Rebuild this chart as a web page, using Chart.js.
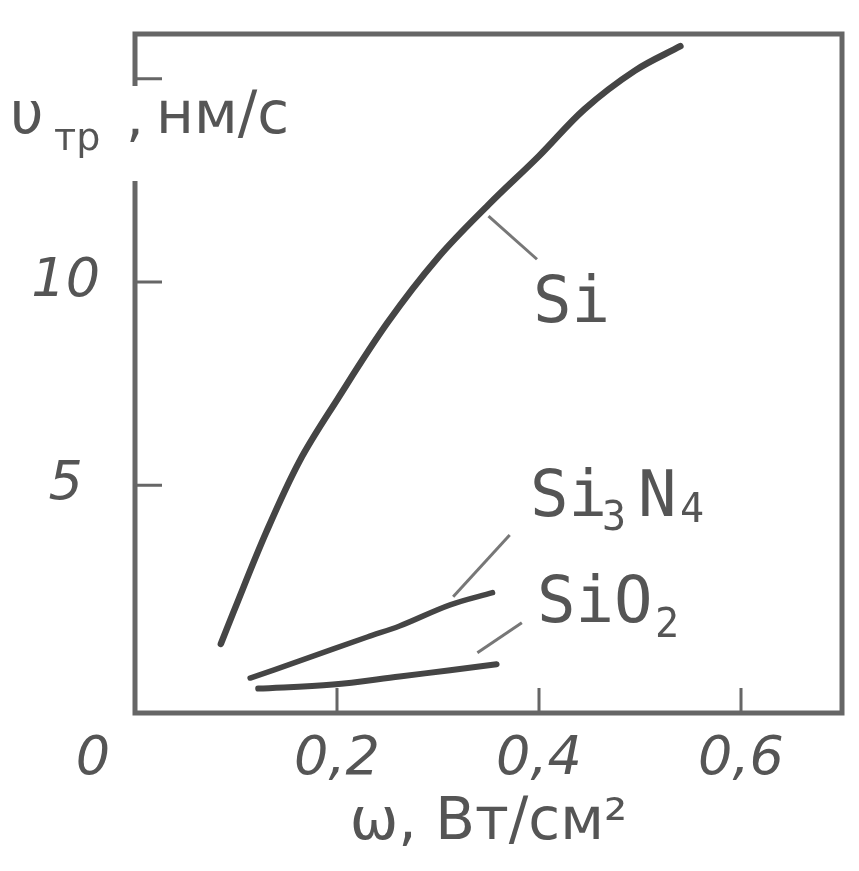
<!DOCTYPE html>
<html>
<head>
<meta charset="utf-8">
<script src="https://cdn.jsdelivr.net/npm/chart.js@4.4.0/dist/chart.umd.min.js"></script>
<style>
  html, body { margin: 0; padding: 0; background: #fff; }
  #wrap { width: 859px; height: 871px; }
</style>
</head>
<body>
<div id="wrap"><canvas id="myChart"></canvas></div>
<script>
// etch rate vs. specific power

const siX = [0.085, 0.097, 0.13, 0.163, 0.2, 0.25, 0.3, 0.35, 0.4, 0.445, 0.495, 0.54];
const siY = [1.1, 1.85, 3.85, 5.6, 7.1, 9.0, 10.6, 11.9, 13.1, 14.25, 15.2, 15.8];

const si3n4X = [0.114, 0.163, 0.23, 0.262, 0.312, 0.354];
const si3n4Y = [0.26, 0.68, 1.27, 1.54, 2.06, 2.36];

const sio2X = [0.122, 0.196, 0.262, 0.312, 0.358];
const sio2Y = [0.0, 0.1, 0.3, 0.45, 0.6];

// leader lines from the curves to their names
const leadSiX = [0.35, 0.398];
const leadSiY = [11.62, 10.56];
const leadSi3n4X = [0.315, 0.371];
const leadSi3n4Y = [2.26, 3.78];
const leadSio2X = [0.339, 0.383];
const leadSio2Y = [0.88, 1.62];

const xTicks = [0.2, 0.4, 0.6];
const xTickLabels = ['0,2', '0,4', '0,6'];
const yTicks = [5, 10, 15];
const yTickLabels = ['5', '10', ''];

const ink = '#454545';
const pts = (xs, ys) => xs.map((x, i) => ({ x: x, y: ys[i] }));

function curve(xs, ys, w) {
  return {
    data: pts(xs, ys),
    showLine: true,
    borderColor: ink,
    borderWidth: w,
    pointRadius: 0,
    tension: 0.35,
    borderCapStyle: 'round'
  };
}
function leader(xs, ys) {
  return {
    data: pts(xs, ys),
    showLine: true,
    borderColor: '#777',
    borderWidth: 3,
    pointRadius: 0,
    tension: 0
  };
}

function text(ctx, s, x, y, size, font) {
  ctx.font = size + 'px ' + (font || '"DejaVu Sans"');
  ctx.fillText(s, x, y);
}

const paper = {
  id: 'paper',
  afterDraw(chart) {
    const ctx = chart.ctx;
    const a = chart.chartArea;
    const x = chart.scales.x, y = chart.scales.y;
    ctx.save();
    ctx.strokeStyle = '#666';
    ctx.lineWidth = 5;
    ctx.strokeRect(a.left, a.top, a.right - a.left, a.bottom - a.top);

    // inward ticks
    ctx.lineWidth = 3;
    ctx.beginPath();
    yTicks.forEach(v => {
      const py = y.getPixelForValue(v);
      ctx.moveTo(a.left, py); ctx.lineTo(a.left + 27, py);
    });
    xTicks.forEach(v => {
      const px = x.getPixelForValue(v);
      ctx.moveTo(px, a.bottom); ctx.lineTo(px, a.bottom - 25);
    });
    ctx.stroke();

    // the y title breaks the left axis
    ctx.fillStyle = '#fff';
    ctx.fillRect(a.left - 6, 86, 12, 95);

    ctx.fillStyle = '#555';
    ctx.textBaseline = 'alphabetic';
    ctx.textAlign = 'left';
    text(ctx, 'υ', 10, 133, 58);
    text(ctx, 'тр', 54, 150, 38);
    text(ctx, ',', 126, 136, 56);
    text(ctx, 'нм/с', 156, 133, 58);

    // origin
    ctx.textAlign = 'center';
    ctx.textBaseline = 'middle';
    ctx.font = 'italic 54px "DejaVu Sans"';
    ctx.fillText('0', 93, 760);

    // curve names
    const mono = '"DejaVu Sans Mono"';
    ctx.textAlign = 'left';
    ctx.textBaseline = 'alphabetic';
    text(ctx, 'Si', 533, 322, 64, mono);
    text(ctx, 'Si', 530, 516, 64, mono);
    text(ctx, '3', 602, 530, 40, mono);
    text(ctx, 'N', 638, 516, 64, mono);
    text(ctx, '4', 680, 522, 40, mono);
    text(ctx, 'SiO', 537, 622, 64, mono);
    text(ctx, '2', 655, 637, 40, mono);
    ctx.restore();
  }
};

const chart = new Chart(document.getElementById('myChart'), {
  type: 'scatter',
  data: {
    datasets: [
      curve(siX, siY, 6.5),
      curve(si3n4X, si3n4Y, 5.5),
      curve(sio2X, sio2Y, 6),
      leader(leadSiX, leadSiY),
      leader(leadSi3n4X, leadSi3n4Y),
      leader(leadSio2X, leadSio2Y)
    ]
  },
  options: {
    responsive: true,
    maintainAspectRatio: false,
    devicePixelRatio: 1,
    animation: false,
    layout: { padding: { top: 34, right: 17, left: 0, bottom: 0 } },
    plugins: { legend: { display: false }, tooltip: { enabled: false } },
    scales: {
      x: {
        type: 'linear',
        min: 0,
        max: 0.7,
        afterBuildTicks: s => { s.ticks = xTicks.map(v => ({ value: v })); },
        afterFit: s => { s.height = 158; s.paddingLeft = 0; s.paddingRight = 0; },
        grid: { display: false, drawTicks: false },
        border: { display: false },
        ticks: {
          padding: 15,
          color: '#555',
          font: { family: 'DejaVu Sans', size: 54, style: 'italic' },
          maxRotation: 0,
          callback: v => xTickLabels[xTicks.indexOf(v)]
        },
        title: {
          display: true,
          text: 'ω, Вт/см²',
          color: '#555',
          font: { family: 'DejaVu Sans', size: 58 },
          padding: { top: 0, bottom: 12 }
        }
      },
      y: {
        type: 'linear',
        min: -0.6,
        max: 16.1,
        afterBuildTicks: s => { s.ticks = yTicks.map(v => ({ value: v })); },
        afterFit: s => { s.width = 135; s.paddingTop = 0; s.paddingBottom = 0; },
        grid: { display: false, drawTicks: false },
        border: { display: false },
        ticks: {
          padding: 35,
          crossAlign: 'center',
          color: '#555',
          font: { family: 'DejaVu Sans', size: 54, style: 'italic' },
          callback: v => yTickLabels[yTicks.indexOf(v)]
        }
      }
    }
  },
  plugins: [paper]
});
</script>
</body>
</html>
